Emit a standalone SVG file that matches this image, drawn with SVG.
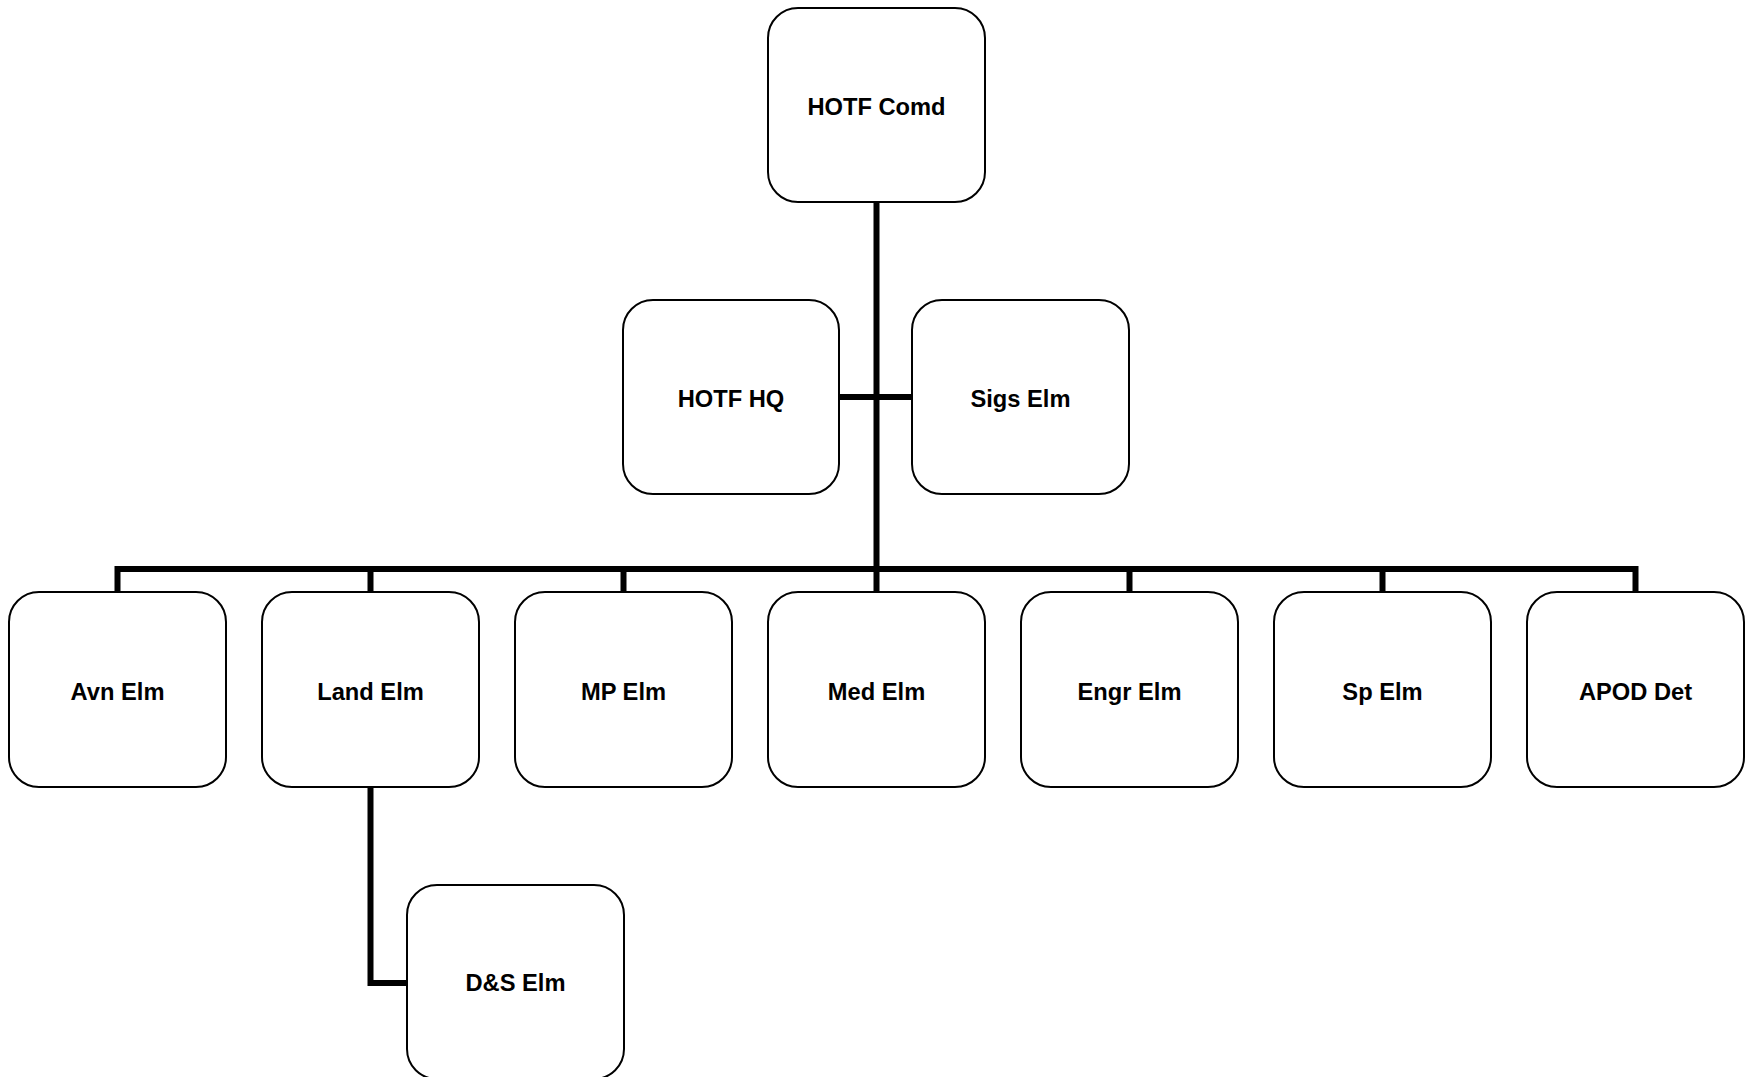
<svg xmlns="http://www.w3.org/2000/svg" width="1748" height="1077" viewBox="0 0 1748 1077">
<style>
.box{fill:#fff;stroke:#000;stroke-width:2}
.lbl{font-family:"Liberation Sans",Arial,sans-serif;font-weight:bold;font-size:23.7px;text-anchor:middle;fill:#000}
.conn{fill:none;stroke:#000;stroke-width:6;stroke-linejoin:miter;stroke-linecap:butt}
</style>
<rect width="1748" height="1077" fill="#fff"/>
<g id="connectors">
<path class="conn" d="M876.5 202 V569"/>
<path class="conn" d="M839 397 H912"/>
<path class="conn" d="M117.5 592 V569 H1635.5 V592"/>
<path class="conn" d="M370.5 569 V592 M623.5 569 V592 M876.5 569 V592 M1129.5 569 V592 M1382.5 569 V592"/>
<path class="conn" d="M370.5 787 V983 H407"/>
</g>
<g id="n-comd"><rect class="box" x="768" y="8" width="217" height="194" rx="30"/><text class="lbl" x="876.5" y="115">HOTF Comd</text></g>
<g id="n-hq"><rect class="box" x="623" y="300" width="216" height="194" rx="30"/><text class="lbl" x="731" y="407">HOTF HQ</text></g>
<g id="n-sigs"><rect class="box" x="912" y="300" width="217" height="194" rx="30"/><text class="lbl" x="1020.5" y="407">Sigs Elm</text></g>
<g id="n-avn"><rect class="box" x="9" y="592" width="217" height="195" rx="30"/><text class="lbl" x="117.5" y="700">Avn Elm</text></g>
<g id="n-land"><rect class="box" x="262" y="592" width="217" height="195" rx="30"/><text class="lbl" x="370.5" y="700">Land Elm</text></g>
<g id="n-mp"><rect class="box" x="515" y="592" width="217" height="195" rx="30"/><text class="lbl" x="623.5" y="700">MP Elm</text></g>
<g id="n-med"><rect class="box" x="768" y="592" width="217" height="195" rx="30"/><text class="lbl" x="876.5" y="700">Med Elm</text></g>
<g id="n-engr"><rect class="box" x="1021" y="592" width="217" height="195" rx="30"/><text class="lbl" x="1129.5" y="700">Engr Elm</text></g>
<g id="n-sp"><rect class="box" x="1274" y="592" width="217" height="195" rx="30"/><text class="lbl" x="1382.5" y="700">Sp Elm</text></g>
<g id="n-apod"><rect class="box" x="1527" y="592" width="217" height="195" rx="30"/><text class="lbl" x="1635.5" y="700">APOD Det</text></g>
<g id="n-ds"><rect class="box" x="407" y="885" width="217" height="194" rx="30"/><text class="lbl" x="515.5" y="991">D&amp;S Elm</text></g>
</svg>
